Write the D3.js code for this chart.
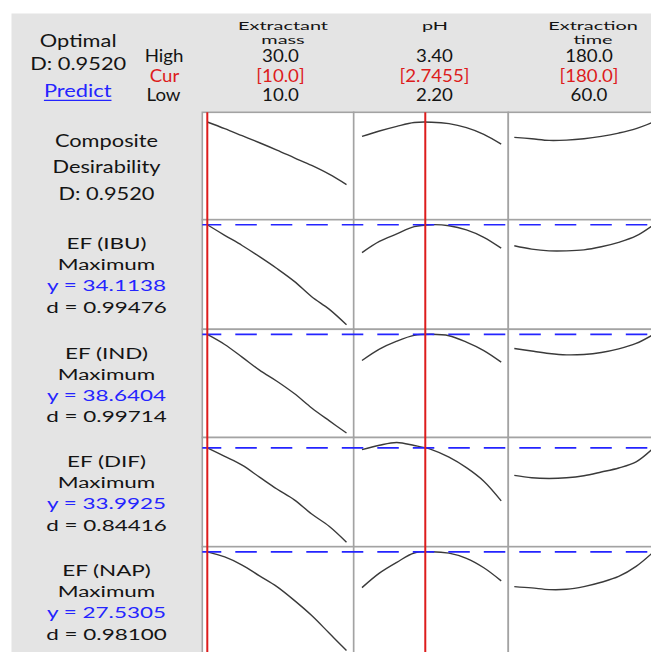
<!DOCTYPE html>
<html>
<head>
<meta charset="utf-8">
<script src="https://cdn.jsdelivr.net/npm/d3@7"></script>
<style>
  body { margin: 0; background: #fff; }
  svg { display: block; font-family: Lato, "Noto Sans", sans-serif; }
</style>
</head>
<body>
<svg width="651" height="652"></svg>
<script>
// factors (columns)
const factorNames = [["Extractant", "mass"], ["pH"], ["Extraction", "time"]];
const highLabels = ["30.0", "3.40", "180.0"];
const curLabels = ["[10.0]", "[2.7455]", "[180.0]"];
const lowLabels = ["10.0", "2.20", "60.0"];
const lowVals = [10, 2.2, 60];
const highVals = [30, 3.4, 180];
const curVals = [10, 2.7455, 180];

// settings where each curve was read
const massGrid = [10, 12.5, 15, 17.5, 20, 22.5, 25, 27.5, 30];
const phGrid = [2.2, 2.35, 2.5, 2.65, 2.8, 2.95, 3.1, 3.25, 3.4];
const timeGrid = [60, 75, 90, 105, 120, 135, 150, 165, 180];

// responses (rows)
const responseNames = ["EF (IBU)", "EF (IND)", "EF (DIF)", "EF (NAP)"];
const goals = ["Maximum", "Maximum", "Maximum", "Maximum"];
const yCurrent = [34.1138, 38.6404, 33.9925, 27.5305];
const dValues = ["0.99476", "0.99714", "0.84416", "0.98100"];
const compositeD = 0.9520;

// composite desirability curves
const compMass = [0.952, 0.884, 0.812, 0.740, 0.665, 0.586, 0.508, 0.419, 0.313];
const compPH = [0.805, 0.860, 0.908, 0.947, 0.950, 0.935, 0.894, 0.826, 0.726];
const compTime = [0.795, 0.781, 0.764, 0.767, 0.781, 0.805, 0.839, 0.884, 0.952];

// response curves
const ibuMass = [34.11, 32.68, 31.29, 29.77, 28.16, 26.41, 24.32, 22.63, 20.50];
const ibuPH = [30.33, 31.85, 32.87, 33.85, 34.12, 33.98, 33.42, 32.41, 30.93];
const ibuTime = [31.25, 30.79, 30.56, 30.56, 30.70, 31.12, 31.72, 32.59, 34.11];

const indMass = [38.64, 37.15, 35.27, 33.33, 31.69, 29.86, 27.72, 25.83, 24.00];
const indPH = [34.77, 36.46, 37.65, 38.50, 38.66, 38.45, 37.50, 36.25, 34.53];
const indTime = [36.56, 36.17, 35.81, 35.61, 35.67, 35.96, 36.50, 37.30, 38.64];

const difMass = [33.99, 32.73, 31.43, 29.66, 27.90, 26.29, 24.18, 22.37, 20.00];
const difPH = [33.74, 34.39, 34.80, 34.35, 33.75, 32.63, 31.07, 29.06, 26.14];
const difTime = [29.92, 29.56, 29.46, 29.56, 29.87, 30.42, 31.02, 31.93, 33.99];

const napMass = [27.53, 26.84, 25.73, 24.25, 22.77, 20.88, 18.80, 16.40, 14.00];
const napPH = [22.63, 24.62, 26.10, 27.38, 27.56, 27.36, 26.65, 25.36, 23.56];
const napTime = [22.77, 22.59, 22.36, 22.40, 22.77, 23.37, 24.16, 25.54, 27.53];

const grids = [massGrid, phGrid, timeGrid];
const rows = [
  [compMass, compPH, compTime],
  [ibuMass, ibuPH, ibuTime],
  [indMass, indPH, indTime],
  [difMass, difPH, difTime],
  [napMass, napPH, napTime]
];

// layout
const colLeft = [202.3, 353.7, 508.3];
const colRight = [353.7, 508.3, 663];
const xPad = [5, 8.3, 6];
const xSpan = 139.2;
const rowTop = [112.3, 219.7, 329.3, 437.5, 546.7, 655];
const yPadTop = 5, yPadBottom = 4.5;

const colors = {
  bg: "#e4e4e4", border: "#a3a3a3", curve: "#3a3a3a",
  red: "#dd1c1c", blue: "#2424ff", text: "#141414"
};

const svg = d3.select("svg");

// text styles, each stretched to the width seen in the picture
const styles = {
  big:   { size: 17,   sample: "Optimal",    target: 76.7 },
  side:  { size: 16.5, sample: "[2.7455]",   target: 70 },
  title: { size: 12,   sample: "Extractant", target: 90 },
  label: { size: 15,   sample: "Maximum",    target: 97.7 }
};
Object.values(styles).forEach(s => {
  const t = svg.append("text").attr("font-size", s.size).text(s.sample);
  s.sx = s.target / t.node().getComputedTextLength();
  t.remove();
});

function addText(g, str, x, y, style, color) {
  const s = styles[style];
  return g.append("text")
    .attr("transform", `translate(${x},${y}) scale(${s.sx},1)`)
    .attr("text-anchor", "middle")
    .attr("font-size", s.size)
    .attr("fill", color || colors.text)
    .text(str);
}

// scales
const xScales = grids.map((g, i) => d3.scaleLinear()
  .domain([lowVals[i], highVals[i]])
  .range([colLeft[i] + xPad[i], colLeft[i] + xPad[i] + xSpan]));

const yScales = rows.map((r, i) => {
  const domain = i === 0 ? [0, 1] : d3.extent(r.flat());
  return d3.scaleLinear()
    .domain(domain)
    .range([rowTop[i + 1] - yPadBottom, rowTop[i] + yPadTop]);
});

// background
svg.append("rect")
  .attr("x", 11.5).attr("y", 13.5)
  .attr("width", 651).attr("height", 652)
  .attr("fill", colors.bg);

// panels
const panels = svg.append("g");
rows.forEach((r, ri) => {
  colLeft.forEach((cl, ci) => {
    panels.append("rect")
      .attr("x", cl).attr("y", rowTop[ri])
      .attr("width", colRight[ci] - cl)
      .attr("height", rowTop[ri + 1] - rowTop[ri])
      .attr("fill", "#fff")
      .attr("stroke", colors.border)
      .attr("stroke-width", 1.6);
  });
});

// curves
const curves = svg.append("g");
rows.forEach((r, ri) => {
  r.forEach((vals, ci) => {
    const line = d3.line()
      .x((d, k) => xScales[ci](grids[ci][k]))
      .y(d => yScales[ri](d))
      .curve(d3.curveCatmullRom.alpha(0.5));
    curves.append("path")
      .attr("d", line(vals))
      .attr("fill", "none")
      .attr("stroke", colors.curve)
      .attr("stroke-width", 1.4);
  });
});

// current response values (blue dashed)
yCurrent.forEach((v, i) => {
  const y = yScales[i + 1](v);
  svg.append("line")
    .attr("x1", colLeft[0]).attr("x2", 651)
    .attr("y1", y).attr("y2", y)
    .attr("stroke", colors.blue)
    .attr("stroke-width", 1.7)
    .attr("stroke-dasharray", "21.5,14")
    .attr("stroke-dashoffset", 2.5);
});

// current factor settings (red)
curVals.forEach((v, i) => {
  const x = xScales[i](v);
  svg.append("line")
    .attr("x1", x).attr("x2", x)
    .attr("y1", rowTop[0]).attr("y2", 652)
    .attr("stroke", colors.red)
    .attr("stroke-width", 2);
});

// header text
const head = svg.append("g");
addText(head, "Optimal", 78.2, 47.3, "big");
addText(head, "D: " + compositeD.toFixed(4), 78.2, 70, "big");
const pred = addText(head, "Predict", 77.7, 97.3, "big", colors.blue);
const pw = pred.node().getComputedTextLength() * styles.big.sx;
head.append("line")
  .attr("x1", 77.7 - pw / 2).attr("x2", 77.7 + pw / 2)
  .attr("y1", 100.3).attr("y2", 100.3)
  .attr("stroke", colors.blue).attr("stroke-width", 1.3);

addText(head, "High", 164, 61.5, "side");
addText(head, "Cur", 164.5, 81.5, "side", colors.red);
addText(head, "Low", 163.5, 100.5, "side");

// factor titles: two tight lines each
const titleCenters = [283, 435, 593];
const valueCenters = [280.5, 434.5, 589];
factorNames.forEach((lines, i) => {
  lines.forEach((t, k) => addText(head, t, titleCenters[i], 30 + k * 13.8, "title"));
  addText(head, highLabels[i], valueCenters[i], 62.3, "side");
  addText(head, curLabels[i], valueCenters[i], 81.8, "side", colors.red);
  addText(head, lowLabels[i], valueCenters[i], 100.8, "side");
});

// row labels
const labels = svg.append("g");
const labelX = 106.5;
addText(labels, "Composite", labelX, rowTop[0] + 34.4, "big");
addText(labels, "Desirability", labelX, rowTop[0] + 61, "big");
addText(labels, "D: " + compositeD.toFixed(4), labelX, rowTop[0] + 87.7, "big");

responseNames.forEach((name, i) => {
  const t = rowTop[i + 1];
  addText(labels, name, labelX, t + 29.5, "label");
  addText(labels, goals[i], labelX, t + 50.5, "label");
  addText(labels, "y = " + yCurrent[i].toFixed(4), labelX, t + 71.5, "label", colors.blue);
  addText(labels, "d = " + dValues[i], labelX, t + 93, "label");
});
</script>
</body>
</html>
